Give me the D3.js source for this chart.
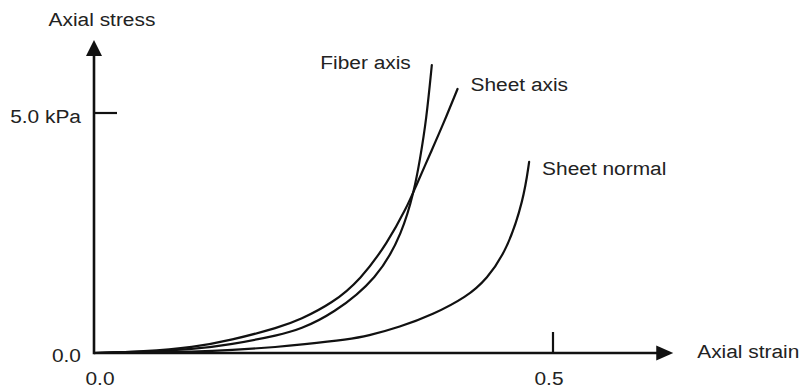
<!DOCTYPE html>
<html>
<head>
<meta charset="utf-8">
<script src="https://cdn.jsdelivr.net/npm/d3@7"></script>
<style>
  html, body { margin: 0; padding: 0; background: #fff; }
  svg { display: block; }
</style>
</head>
<body>
<div id="chart"></div>
<script>
// --- Data (strain, stress in kPa) ---
const fiberStrain  = [0, 0.054, 0.109, 0.148, 0.203, 0.224, 0.260, 0.309, 0.336, 0.349, 0.355, 0.362, 0.368];
const fiberStress  = [0, 0.02, 0.08, 0.17, 0.38, 0.49, 0.81, 1.55, 2.50, 3.40, 4.02, 4.85, 6.00];

const sheetStrain  = [0, 0.054, 0.109, 0.148, 0.203, 0.224, 0.260, 0.290, 0.320, 0.341, 0.349, 0.368, 0.380, 0.396];
const sheetStress  = [0, 0.03, 0.12, 0.26, 0.54, 0.69, 1.04, 1.52, 2.30, 3.05, 3.40, 4.23, 4.75, 5.50];

const normalStrain = [0, 0.054, 0.109, 0.148, 0.203, 0.224, 0.279, 0.297, 0.333, 0.369, 0.406, 0.428, 0.450, 0.468, 0.474];
const normalStress = [0, 0.01, 0.03, 0.06, 0.13, 0.17, 0.29, 0.35, 0.54, 0.80, 1.17, 1.54, 2.15, 3.19, 3.98];

const seriesNames = ["Fiber axis", "Sheet axis", "Sheet normal"];

const xTicks = [0, 0.5];
const xTickLabels = ["0.0", "0.5"];
const yTicks = [0, 5];
const yTickLabels = ["0.0", "5.0 kPa"];

const xTitle = "Axial strain";
const yTitle = "Axial stress";
const xAxisEnd = 0.631;  // arrow tip
const yAxisEnd = 6.52;

// --- Layout ---
const W = 802, H = 390;
const x = d3.scaleLinear().domain([0, 0.5]).range([94, 553]);
const y = d3.scaleLinear().domain([0, 5]).range([353, 113]);

const ink = "#111";
const textColor = "#222";
const FONT = "'Liberation Sans', Arial, Helvetica, sans-serif";
const STRETCH = 1.16; // the reference lettering is a bit wide

const svg = d3.select("#chart").append("svg")
  .attr("width", W).attr("height", H)
  .attr("font-family", FONT);

// --- Axes with arrow heads ---
const axisW = 2.6;
svg.append("line")
  .attr("x1", x(0)).attr("y1", y(0))
  .attr("x2", x(xAxisEnd) - 14).attr("y2", y(0))
  .attr("stroke", ink).attr("stroke-width", axisW);
svg.append("path")
  .attr("d", `M${x(xAxisEnd)},${y(0)} L${x(xAxisEnd) - 17},${y(0) - 7.5} L${x(xAxisEnd) - 17},${y(0) + 7.5} Z`)
  .attr("fill", ink);

svg.append("line")
  .attr("x1", x(0)).attr("y1", y(0) + axisW / 2)
  .attr("x2", x(0)).attr("y2", y(yAxisEnd) + 14)
  .attr("stroke", ink).attr("stroke-width", axisW);
svg.append("path")
  .attr("d", `M${x(0)},${y(yAxisEnd)} L${x(0) - 8},${y(yAxisEnd) + 16} L${x(0) + 8},${y(yAxisEnd) + 16} Z`)
  .attr("fill", ink);

// tick marks (only the non-zero ones are drawn)
svg.append("line")
  .attr("x1", x(0)).attr("x2", x(0) + 23)
  .attr("y1", y(yTicks[1])).attr("y2", y(yTicks[1]))
  .attr("stroke", ink).attr("stroke-width", 2.2);
svg.append("line")
  .attr("x1", x(xTicks[1])).attr("x2", x(xTicks[1]))
  .attr("y1", y(0)).attr("y2", y(0) - 21)
  .attr("stroke", ink).attr("stroke-width", 2.2);

// --- Curves ---
const line = d3.line()
  .x(d => x(d[0]))
  .y(d => y(d[1]))
  .curve(d3.curveBasis);

const seriesData = [
  d3.zip(fiberStrain, fiberStress),
  d3.zip(sheetStrain, sheetStress),
  d3.zip(normalStrain, normalStress)
];

svg.append("g")
  .selectAll("path")
  .data(seriesData)
  .join("path")
  .attr("d", line)
  .attr("fill", "none")
  .attr("stroke", ink)
  .attr("stroke-width", 2.2)
  .attr("stroke-linecap", "round");

// --- Text ---
function label(txt, px, py, anchor) {
  const t = svg.append("text")
    .attr("x", px).attr("y", py)
    .attr("text-anchor", anchor)
    .attr("font-size", 18)
    .attr("fill", textColor)
    .text(txt);
  const natural = t.node().getComputedTextLength();
  t.attr("textLength", natural * STRETCH).attr("lengthAdjust", "spacingAndGlyphs");
  return t;
}

// curve end labels: [dx, dy, anchor] relative to the last point
const endLabelPlacement = [[-21, 4, "end"], [13, 2, "start"], [13, 13, "start"]];
seriesData.forEach((pts, i) => {
  const last = pts[pts.length - 1];
  const [dx, dy, anchor] = endLabelPlacement[i];
  label(seriesNames[i], x(last[0]) + dx, y(last[1]) + dy, anchor);
});

// y tick labels
label(yTickLabels[0], x(0) - 13, y(yTicks[0]) + 9, "end");
label(yTickLabels[1], x(0) - 13, y(yTicks[1]) + 10, "end");
// x tick labels
label(xTickLabels[0], x(xTicks[0]) + 6, y(0) + 32, "middle");
label(xTickLabels[1], x(xTicks[1]) - 4, y(0) + 32, "middle");

// axis titles
label(yTitle, x(0) + 8, 26, "middle");
label(xTitle, x(xAxisEnd) + 24, y(0) + 5, "start");
</script>
</body>
</html>
